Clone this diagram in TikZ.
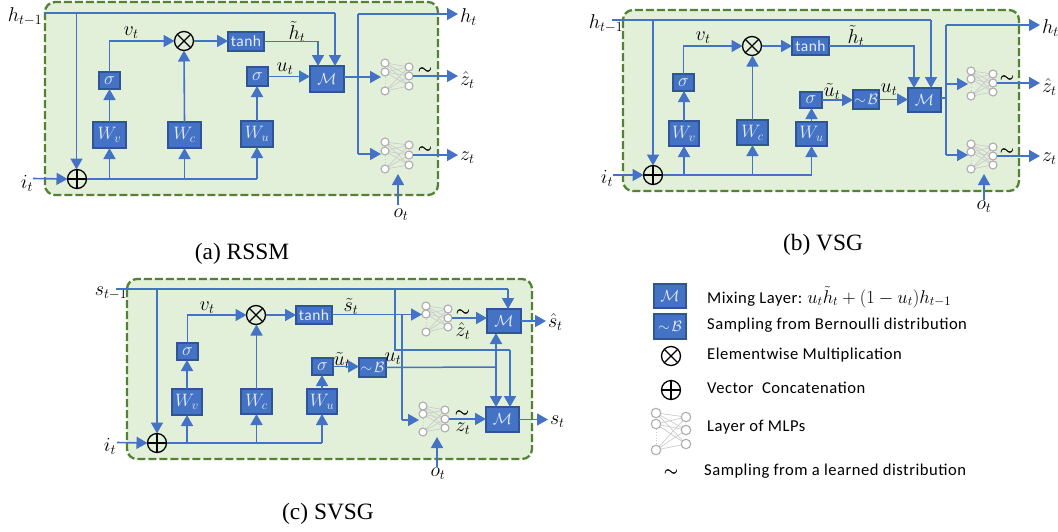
\RequirePackage{fix-cm}
\documentclass[tikz,border=0pt]{standalone}
\usepackage{amsmath}
\usepackage{fontspec}
\newfontfamily\cbr[LetterSpace=3]{Carlito}
\newfontfamily\capf{Liberation Serif}
\usetikzlibrary{arrows.meta,calc}
\definecolor{lineb}{HTML}{4472C4}
\definecolor{boxe}{HTML}{2F5597}
\definecolor{panelg}{HTML}{E2EFD9}
\definecolor{dashg}{HTML}{548235}
\definecolor{boxt}{HTML}{E4ECF8}
\tikzset{
  panel/.style={draw=dashg,fill=panelg,line width=2.3pt,dash pattern=on 8pt off 3pt,rounded corners=10pt},
  conn/.style={draw=lineb,line width=1.6pt,-{Triangle[length=11pt,width=12pt]}},
  wire/.style={draw=lineb,line width=1.5pt},
  blk/.style={draw=boxe,fill=lineb,line width=1.5pt,inner sep=0pt,outer sep=0pt,text=boxt,font=\fontsize{18}{20}\selectfont},
  lab/.style={inner sep=2pt,outer sep=0pt,text=black,font=\fontsize{20}{22}\selectfont},
  capt/.style={inner sep=0pt,text=black,font=\capf\fontsize{23.4}{26}\selectfont},
  legt/.style={inner sep=0pt,anchor=west,text=black,font=\cbr\fontsize{16.6}{19}\selectfont},
  opl/.style={circle,draw=black,line width=1.3pt,minimum size=19pt,inner sep=0pt,outer sep=0pt,
    path picture={\draw[black,line width=1.2pt,shift={(path picture bounding box.center)}] (-11pt,0)--(11pt,0) (0,-11pt)--(0,11pt);}},
  otm/.style={circle,draw=black,line width=1.3pt,minimum size=19pt,inner sep=0pt,outer sep=0pt,
    path picture={\draw[black,line width=1.2pt,shift={(path picture bounding box.center)}] (-8pt,-8pt)--(8pt,8pt) (-8pt,8pt)--(8pt,-8pt);}},
  neur/.style={circle,draw=black!32,fill=white,line width=1.1pt,inner sep=0pt,outer sep=0pt},
  neurl/.style={draw=black!20,line width=.7pt},
}
\newcommand{\bx}[6]{\node[blk,minimum width={(#4-#2)*1pt},minimum height={(#5-#3)*1pt}] (#1) at ({(#2+#4)/2},{(#3+#5)/2}) {#6};}
\newcommand{\tanhtxt}{{\cbr\fontsize{15.5}{17}\selectfont tanh}}
\newcommand{\sigt}{{\fontsize{18}{20}\selectfont$\sigma$}}
\newcommand{\mt}{{\fontsize{16}{18}\selectfont$\mathcal{M}$}}
\newcommand{\bt}{{\fontsize{15}{17}\selectfont$\sim\!\mathcal{B}$}}
\newcommand{\sm}{\fontsize{18}{18}\selectfont\rlap{$\sim$}\kern.5pt$\sim$}
% name, xl, y1, y2, y3, xr, y1, y2, y3
\newcommand{\mlp}[9]{%
  \coordinate (#1-l1) at (#2,#3);\coordinate (#1-l2) at (#2,#4);\coordinate (#1-l3) at (#2,#5);
  \coordinate (#1-r1) at (#6,#7);\coordinate (#1-r2) at (#6,#8);\coordinate (#1-r3) at (#6,#9);
  \foreach \i in {1,2,3}{\foreach \j in {1,2,3}{\draw[neurl] (#1-l\i)--(#1-r\j);}}
  \draw[neurl,dotted,line width=1pt] (#1-l2)--(#1-l3);
  \foreach \i in {l1,l2,l3,r1,r2,r3}{\node[neur,minimum size=\mlpd] (#1-\i n) at (#1-\i) {};}
}
\newcommand{\mlpd}{8pt}
\begin{document}
\begin{tikzpicture}[x=1pt,y=-1pt]
\useasboundingbox (0,0) rectangle (1058,531);
%% ---------- (a)
\draw[panel] (45,2) rectangle (438,195);
\node[lab] (a-hp) at (25,17) {$h_{t-1}$};
\node[lab] (a-it) at (27,183) {$i_t$};
\node[opl] (a-plus) at (77,179) {};
\node[otm] (a-times) at (184,41) {};
\bx{a-wv}{93}{122}{126}{148}{$W_v$}
\bx{a-wc}{168}{122}{201}{148}{$W_c$}
\bx{a-wu}{241}{121}{273}{147}{$W_u$}
\bx{a-s1}{99}{72}{120}{89}{\sigt}
\bx{a-s2}{247}{67}{268}{86}{\sigt}
\bx{a-tanh}{228}{32}{264}{51}{\tanhtxt}
\bx{a-m}{310}{66}{344}{92}{\mt}
\mlp{a-n1}{385}{63}{72}{91}{409}{67}{76}{86}
\mlp{a-n2}{385}{142}{151}{169}{409}{145}{155}{165}
\node[lab] (a-vt) at (131,33) {$v_t$};
\node[lab] (a-ht) at (297,32) {$\tilde h_t$};
\node[lab] (a-ut) at (285,69) {$u_t$};
\node[lab,anchor=west] (a-hn) at (458,17) {$h_t$};
\node[lab,anchor=west] (a-zh) at (458,80) {$\hat z_t$};
\node[lab,anchor=west] (a-z) at (458,158) {$z_t$};
\node[lab] (a-ot) at (401,215) {$o_t$};
\node[lab] (a-t1) at (425,71) {\sm};
\node[lab] (a-t2) at (425,150) {\sm};
\coordinate (a-hs) at (45,13); \coordinate (a-hv) at (76.5,13); \coordinate (a-hm) at (335,13);
\coordinate (a-is) at (33,178.5);
\coordinate (a-bv) at (358,14); \coordinate (a-bm) at (358,77); \coordinate (a-bl) at (358,154);
\coordinate (a-i1) at (381,77); \coordinate (a-i2) at (381,154);
\coordinate (a-hnt) at (458,14); \coordinate (a-mt1) at (318,66);
\coordinate (a-ob) at (398,205); \coordinate (a-ot2) at (398,174);
\draw[wire] (a-hs)--(a-hm);
\draw[conn] (a-hm)--(a-hm |- a-m.north);
\draw[conn] (a-hv)--(a-hv |- a-plus.north);
\draw[conn] (a-is)--(a-plus.west);
\draw[wire] (a-plus.east)--(a-plus.east -| a-wu.south);
\draw[conn] (a-plus.east -| a-wv.south)--(a-wv.south);
\draw[conn] (a-plus.east -| a-wc.south)--(a-wc.south);
\draw[conn] (a-plus.east -| a-wu.south)--(a-wu.south);
\draw[conn] (a-wv.north)--(a-wv.north |- a-s1.south);
\draw[conn] (a-wc.north)--(a-times.south);
\draw[conn] (a-wu.north)--(a-wu.north |- a-s2.south);
\draw[conn] (a-s1.north)|-(a-times.west);
\draw[conn] (a-times.east)--(a-times.east -| a-tanh.west);
\draw[conn] (a-tanh.east)-|(a-mt1);
\draw[conn] (a-s2.east)--(a-s2.east -| a-m.west);
\draw[wire] (a-m.east |- a-bm)--(a-bm);
\draw[wire] (a-bv)--(a-bl);
\draw[conn] (a-bv)--(a-hnt);
\draw[conn] (a-bm)--(a-i1);
\draw[conn] (a-bl)--(a-i2);
\draw[conn] (a-n1-r2n.east)--(a-n1-r2n.east -| a-zh.west);
\draw[conn] (a-n2-r2n.east)--(a-n2-r2n.east -| a-z.west);
\draw[conn] (a-ob)--(a-ot2);
\node[capt] (a-cap) at (242,254) {(a) RSSM};
%% ---------- (b)
\draw[panel] (623,10) rectangle (1019,191);
\node[lab] (b-hp) at (606,24) {$h_{t-1}$};
\node[lab] (b-it) at (607,178) {$i_t$};
\node[opl] (b-plus) at (653,175) {};
\node[otm] (b-times) at (752,46) {};
\bx{b-wv}{669}{121}{699}{146}{$W_v$}
\bx{b-wc}{737}{120}{768}{145}{$W_c$}
\bx{b-wu}{796}{122}{827}{146}{$W_u$}
\bx{b-s1}{673}{74}{694}{91}{\sigt}
\bx{b-s2}{800}{92}{822}{108}{\sigt}
\bx{b-tanh}{792}{37}{829}{55}{\tanhtxt}
\bx{b-b}{853}{90}{879}{109}{\bt}
\bx{b-m}{908}{88}{941}{112}{\mt}
\mlp{b-n1}{971}{71}{79}{96}{993}{74}{83}{92}
\mlp{b-n2}{971}{144}{152}{169}{993}{147}{156}{165}
\node[lab] (b-vt) at (703,38) {$v_t$};
\node[lab] (b-ht) at (856,36) {$\tilde h_t$};
\node[lab] (b-uu) at (832,91) {$\tilde u_t$};
\node[lab] (b-ut) at (889,90) {$u_t$};
\node[lab,anchor=west] (b-hn) at (1040,28) {$h_t$};
\node[lab,anchor=west] (b-zh) at (1040,87) {$\hat z_t$};
\node[lab,anchor=west] (b-z) at (1040,159) {$z_t$};
\node[lab] (b-ot) at (984,207) {$o_t$};
\node[lab] (b-t1) at (1007,79) {\sm};
\node[lab] (b-t2) at (1007,152) {\sm};
\coordinate (b-hs) at (612,20); \coordinate (b-hv) at (653,20); \coordinate (b-hm) at (931,20);
\coordinate (b-is) at (613,175);
\coordinate (b-bv) at (946,25); \coordinate (b-bm) at (946,98); \coordinate (b-bu) at (946,84); \coordinate (b-bl) at (946,155);
\coordinate (b-i1) at (968,84); \coordinate (b-i2) at (968,155);
\coordinate (b-hnt) at (1040,25); \coordinate (b-mt1) at (914,88);
\coordinate (b-ob) at (984,200); \coordinate (b-ot2) at (984,174);
\draw[wire] (b-hs)--(b-hm);
\draw[conn] (b-hm)--(b-hm |- b-m.north);
\draw[conn] (b-hv)--(b-plus.north);
\draw[conn] (b-is)--(b-plus.west);
\draw[wire] (b-plus.east)--(b-plus.east -| b-wu.south);
\draw[conn] (b-plus.east -| b-wv.south)--(b-wv.south);
\draw[conn] (b-plus.east -| b-wc.south)--(b-wc.south);
\draw[conn] (b-plus.east -| b-wu.south)--(b-wu.south);
\draw[conn] (b-wv.north)--(b-wv.north |- b-s1.south);
\draw[conn] (b-wc.north)--(b-wc.north |- b-times.south);
\draw[conn] (b-wu.north)--(b-wu.north |- b-s2.south);
\draw[conn] (b-s1.north)|-(b-times.west);
\draw[conn] (b-times.east)--(b-times.east -| b-tanh.west);
\draw[conn] (b-tanh.east)-|(b-mt1);
\draw[conn] (b-s2.east)--(b-s2.east -| b-b.west);
\draw[conn] (b-b.east)--(b-b.east -| b-m.west);
\draw[wire] (b-m.east |- b-bm)--(b-bm);
\draw[wire] (b-bv)--(b-bl);
\draw[conn] (b-bv)--(b-hnt);
\draw[conn] (b-bu)--(b-i1);
\draw[conn] (b-bl)--(b-i2);
\draw[conn] (b-n1-r2n.east)--(b-n1-r2n.east -| b-zh.west);
\draw[conn] (b-n2-r2n.east)--(b-n2-r2n.east -| b-z.west);
\draw[conn] (b-ob)--(b-ot2);
\node[capt] (b-cap) at (823,245) {(b) VSG};
%% ---------- (c)
\draw[panel] (127,279) rectangle (532,459);
\node[lab] (c-hp) at (111,293) {$s_{t-1}$};
\node[lab] (c-it) at (110,446) {$i_t$};
\node[opl] (c-plus) at (157,443) {};
\node[otm] (c-times) at (256,315) {};
\bx{c-wv}{172}{389}{202}{415}{$W_v$}
\bx{c-wc}{241}{389}{272}{414}{$W_c$}
\bx{c-wu}{307}{389}{337}{414}{$W_u$}
\bx{c-s1}{177}{343}{198}{360}{\sigt}
\bx{c-s2}{312}{358}{333}{375}{\sigt}
\bx{c-tanh}{296}{306}{332}{324}{\tanhtxt}
\bx{c-b}{359}{358}{386}{377}{\bt}
\bx{c-m1}{487}{309}{521}{333}{\mt}
\bx{c-m2}{486}{407}{519}{432}{\mt}
\mlp{c-n1}{426}{306}{314}{332}{448}{309}{318}{327}
\mlp{c-n2}{423}{406}{414}{432}{445}{410}{419}{428}
\node[lab] (c-vt) at (207,308) {$v_t$};
\node[lab] (c-st) at (351,306) {$\tilde s_t$};
\node[lab] (c-uu) at (342,360) {$\tilde u_t$};
\node[lab] (c-ut) at (393,359) {$u_t$};
\node[lab] (c-zh) at (463,331) {$\hat z_t$};
\node[lab] (c-z) at (463,429) {$z_t$};
\node[lab] (c-t1) at (463,313) {\sm};
\node[lab] (c-t2) at (462,414) {\sm};
\node[lab,anchor=west] (c-sh) at (546,322) {$\hat s_t$};
\node[lab,anchor=west] (c-s) at (548,422) {$s_t$};
\node[lab] (c-ot) at (438,474) {$o_t$};
\coordinate (c-hs) at (116,289); \coordinate (c-hv) at (157,289); \coordinate (c-hm) at (508,289); \coordinate (c-hb) at (395,289);
\coordinate (c-is) at (117,442.5);
\coordinate (c-b2) at (395,350); \coordinate (c-b3) at (510,350); \coordinate (c-m2t) at (510,407);
\coordinate (c-m1t) at (508,309);
\coordinate (c-tv) at (402,314.5); \coordinate (c-tb) at (402,420);
\coordinate (c-i1) at (422,314.5); \coordinate (c-i2) at (419,420);
\coordinate (c-j) at (496,367);
\coordinate (c-ob) at (437,467); \coordinate (c-ot2) at (437,437);
\draw[wire] (c-hs)--(c-hm);
\draw[conn] (c-hm)--(c-m1t);
\draw[conn] (c-hv)--(c-plus.north);
\draw[conn] (c-is)--(c-plus.west);
\draw[wire] (c-hb)--(c-b2)--(c-b3);
\draw[conn] (c-b3)--(c-m2t);
\draw[wire] (c-plus.east)--(c-plus.east -| c-wu.south);
\draw[conn] (c-plus.east -| c-wv.south)--(c-wv.south);
\draw[conn] (c-plus.east -| c-wc.south)--(c-wc.south);
\draw[conn] (c-plus.east -| c-wu.south)--(c-wu.south);
\draw[conn] (c-wv.north)--(c-wv.north |- c-s1.south);
\draw[conn] (c-wc.north)--(c-wc.north |- c-times.south);
\draw[conn] (c-wu.north)--(c-wu.north |- c-s2.south);
\draw[conn] (c-s1.north)|-(c-times.west);
\draw[conn] (c-times.east)--(c-times.east -| c-tanh.west);
\draw[conn] (c-tanh.east |- c-i1)--(c-i1);
\draw[wire] (c-tv)--(c-tb);
\draw[conn] (c-tb)--(c-i2);
\draw[conn] (c-s2.east)--(c-s2.east -| c-b.west);
\draw[wire] (c-b.east)--(c-j);
\draw[conn] (c-j)--(c-j |- c-m1.south);
\draw[conn] (c-j)--(c-j |- c-m2.north);
\draw[conn] (c-n1-r2n.east)--(c-n1-r2n.east -| c-m1.west);
\draw[conn] (c-n2-r2n.east)--(c-n2-r2n.east -| c-m2.west);
\draw[conn] (c-m1.east)--(c-m1.east -| c-sh.west);
\draw[conn] (c-m2.east)--(c-m2.east -| c-s.west);
\draw[conn] (c-ob)--(c-ot2);
\node[capt] (c-cap) at (328,514) {(c) SVSG};
%% ---------- legend
\bx{l-m}{654}{284}{686}{308}{\mt}
\bx{l-b}{654}{314}{686}{339}{\bt}
\node[otm] (l-times) at (671,356) {};
\node[opl] (l-plus) at (671,390) {};
\renewcommand{\mlpd}{9.5pt}
\mlp{l-n}{656}{413}{424}{450}{686}{417}{430}{444}
\node[lab] (l-til) at (671,473) {\sm};
\node[legt] (l-t1) at (707,297) {Mixing Layer:\hspace{5pt}{\fontsize{18.5}{20}\selectfont$u_t\tilde h_t+(1-u_t)h_{t-1}$}};
\node[legt] (l-t2) at (707,325) {Sampling from Bernoulli distribution};
\node[legt] (l-t3) at (707,355) {Elementwise Multiplication};
\node[legt] (l-t4) at (707,388) {Vector\ \ Concatenation};
\node[legt] (l-t5) at (707,427) {Layer of MLPs};
\node[legt] (l-t6) at (704,471) {Sampling from a learned distribution};
\end{tikzpicture}
\end{document}
